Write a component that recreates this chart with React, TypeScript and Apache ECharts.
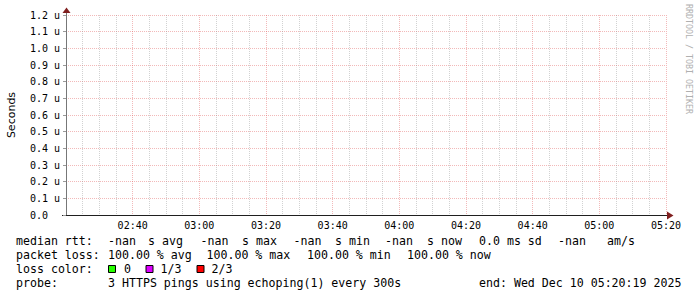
import React, { useEffect, useRef } from "react";
import * as echarts from "echarts";

// ---- data ----
// time axis in minutes since midnight (02:20 .. 05:20), step 300 s
const timeMinutes: number[] = [
  140, 145, 150, 155, 160, 165, 170, 175, 180, 185, 190, 195, 200, 205, 210, 215, 220, 225, 230,
  235, 240, 245, 250, 255, 260, 265, 270, 275, 280, 285, 290, 295, 300, 305, 310, 315, 320,
];
// median rtt (seconds): every sample is -nan (100% packet loss)
const medianRtt: (number | null)[] = [
  null, null, null, null, null, null, null, null, null, null, null, null, null, null, null, null,
  null, null, null, null, null, null, null, null, null, null, null, null, null, null, null, null,
  null, null, null, null, null,
];
const xMin = 140;
const xMax = 320;
const xMajorStep = 20;
const yMin = 0;
const yMax = 1.2;
const yStep = 0.1;
const yAxisName = "Seconds";
const watermark = "RRDTOOL / TOBI OETIKER";

const rttTokens = ["median rtt:", "-nan", "s avg", "-nan", "s max", "-nan", "s min", "-nan", "s now", "0.0 ms sd", "-nan", "am/s"];
const lossTokens = ["packet loss:", "100.00 % avg", "100.00 % max", "100.00 % min", "100.00 % now"];
const lossColorTitle = "loss color:";
const lossLevels = ["0", "1/3", "2/3"];
const lossColors = ["#26ff00", "#dd00ff", "#ff0000"];
const probeTokens = ["probe:", "3 HTTPS pings using echoping(1) every 300s", "end: Wed Dec 10 05:20:19 2025"];

// ---- layout ----
const rttX = [16, 108, 148, 200.5, 242, 293.5, 335, 385, 427, 479, 558, 607];
const lossX = [16, 108, 206.5, 307, 407];
const boxX = [108.5, 146, 197];
const levelX = [124, 160.5, 211.5];
const probeX = [16, 108, 479];
const rowY = [241, 255, 269, 283];

const MONO = "'DejaVu Sans Mono', 'Liberation Mono', monospace";

function pad2(n: number) {
  return (n < 10 ? "0" : "") + n;
}

export default function App() {
  const ref = useRef<HTMLDivElement>(null);
  useEffect(() => {
    if (!ref.current) return;
    const chart = echarts.init(ref.current, undefined, { renderer: "svg" });

    const txt = (s: string, x: number, y: number) => ({
      type: "text",
      x,
      y,
      style: { text: s, font: `11.6px ${MONO}`, fill: "#000", verticalAlign: "middle", align: "left" },
      silent: true,
    });

    const graphics: any[] = [];
    rttTokens.forEach((t, i) => graphics.push(txt(t, rttX[i], rowY[0])));
    lossTokens.forEach((t, i) => graphics.push(txt(t, lossX[i], rowY[1])));
    graphics.push(txt(lossColorTitle, 16, rowY[2]));
    lossLevels.forEach((t, i) => {
      graphics.push({
        type: "rect",
        shape: { x: boxX[i], y: 265.5, width: 7, height: 7 },
        style: { fill: lossColors[i], stroke: "#000", lineWidth: 1 },
      });
      graphics.push(txt(t, levelX[i], rowY[2]));
    });
    probeTokens.forEach((t, i) => graphics.push(txt(t, probeX[i], rowY[3])));

    // y-axis title
    graphics.push({
      type: "text",
      x: 11,
      y: 115,
      rotation: Math.PI / 2,
      style: { text: yAxisName, font: "11px 'DejaVu Sans', sans-serif", fill: "#000", align: "center", verticalAlign: "middle" },
    });
    // watermark
    graphics.push({
      type: "text",
      x: 689,
      y: 59,
      rotation: -Math.PI / 2,
      style: { text: watermark, font: `8.3px ${MONO}`, fill: "#b0b0b0", align: "center", verticalAlign: "middle" },
    });
    // arrows
    graphics.push({
      type: "polygon",
      shape: { points: [[62.5, 13], [66.5, 7.5], [70.5, 13]] },
      style: { fill: "#801f1f" },
    });
    graphics.push({
      type: "polygon",
      shape: { points: [[667, 211.5], [673.5, 215.5], [667, 219.5]] },
      style: { fill: "#801f1f" },
    });
    // axis extensions
    graphics.push({ type: "line", shape: { x1: 66.5, y1: 13, x2: 66.5, y2: 15 }, style: { stroke: "#777", lineWidth: 1 } });
    graphics.push({ type: "line", shape: { x1: 62, y1: 215.5, x2: 667, y2: 215.5 }, style: { stroke: "#1f1f1f", lineWidth: 1 } });

    chart.setOption({
      animation: false,
      backgroundColor: "#ffffff",
      grid: { left: 66, top: 15, width: 600, height: 200, containLabel: false },
      xAxis: {
        type: "value",
        min: xMin,
        max: xMax,
        interval: xMajorStep,
        axisLine: { show: true, lineStyle: { color: "#1f1f1f", width: 1 } },
        axisTick: { show: false },
        minorTick: { show: false, splitNumber: 4 },
        axisLabel: {
          showMinLabel: false,
          margin: 5,
          fontFamily: MONO,
          fontSize: 10,
          color: "#000",
          formatter: (v: number) => pad2(Math.floor(v / 60)) + ":" + pad2(Math.round(v % 60)),
        },
        splitLine: { show: true, lineStyle: { color: "rgba(222,79,79,0.4)", width: 1, type: [1, 1] } },
        minorSplitLine: { show: true, lineStyle: { color: "rgba(143,143,143,0.4)", width: 1, type: [1, 1] } },
      },
      yAxis: {
        type: "value",
        min: yMin,
        max: yMax,
        interval: yStep,
        axisLine: { show: true, lineStyle: { color: "#777", width: 1 } },
        axisTick: { show: true, length: 3, lineStyle: { color: "#999" } },
        axisLabel: {
          align: "left",
          margin: 36,
          fontFamily: MONO,
          fontSize: 10,
          color: "#000",
          formatter: (v: number) => (Math.abs(v) < 1e-9 ? "0.0" : v.toFixed(1) + " u"),
        },
        splitLine: { show: true, lineStyle: { color: "rgba(222,79,79,0.4)", width: 1, type: [1, 1] } },
      },
      series: [
        {
          type: "line",
          name: "median rtt",
          data: timeMinutes.map((t, i) => [t, medianRtt[i]]),
          showSymbol: false,
          connectNulls: false,
          lineStyle: { color: "#202020", width: 1 },
        },
      ],
      graphic: graphics,
    });
    return () => chart.dispose();
  }, []);
  return (
    <div
      ref={ref}
      style={{ position: "fixed", left: 0, top: 0, width: 697, height: 297, background: "#fff" }}
    />
  );
}
